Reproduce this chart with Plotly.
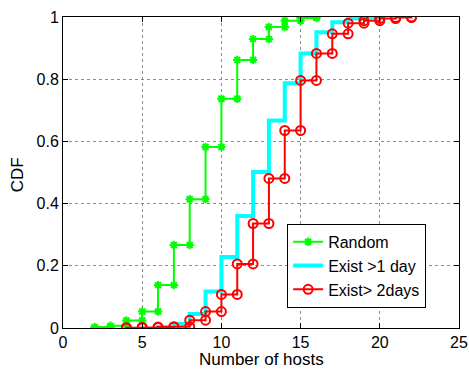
import plotly.graph_objects as go

# Data (CDF value reached at each host count)
random_x = [2, 3, 4, 5, 6, 7, 8, 9, 10, 11, 12, 13, 14, 15, 16]
random_F = [0.003, 0.007, 0.024, 0.053, 0.138, 0.267, 0.414, 0.582, 0.737,
            0.862, 0.929, 0.968, 0.988, 0.997, 1.0]

exist1_x = [6, 7, 8, 9, 10, 11, 12, 13, 14, 15, 16, 17, 18, 19, 20]
exist1_F = [0.003, 0.013, 0.045, 0.117, 0.228, 0.36, 0.502, 0.667, 0.787,
            0.883, 0.951, 0.983, 0.995, 0.998, 1.0]

exist2_x = [4, 5, 6, 7, 8, 9, 10, 11, 12, 13, 14, 15, 16, 17, 18, 19, 20, 21, 22]
exist2_F = [0.001, 0.002, 0.003, 0.004, 0.025, 0.053, 0.108, 0.206, 0.336,
            0.481, 0.635, 0.796, 0.883, 0.946, 0.98, 0.988, 0.995, 0.998, 1.0]

x_ticks = [0, 5, 10, 15, 20, 25]
y_ticks = [0, 0.2, 0.4, 0.6, 0.8, 1]
y_tick_labels = ["0", "0.2", "0.4", "0.6", "0.8", "1"]

x_title = "Number of hosts"
y_title = "CDF"


def stairs(xs, fs):
    vx, vy = [xs[0]], [0.0]
    prev = 0.0
    for i, (x, f) in enumerate(zip(xs, fs)):
        if i > 0:
            vx.append(x)
            vy.append(prev)
        vx.append(x)
        vy.append(f)
        prev = f
    return vx, vy


FONT = "Liberation Sans, Arial, sans-serif"

fig = go.Figure()

gx, gy = stairs(random_x, random_F)
fig.add_trace(go.Scatter(
    x=gx, y=gy, mode="lines+markers", name="Random",
    line=dict(color="#00ff00", width=2),
    marker=dict(symbol="asterisk-open", size=7, color="#00ff00",
                line=dict(color="#00ff00", width=2)),
))

cx, cy = stairs(exist1_x, exist1_F)
fig.add_trace(go.Scatter(
    x=cx, y=cy, mode="lines", name="Exist >1 day",
    line=dict(color="#00ffff", width=4),
))

rx, ry = stairs(exist2_x, exist2_F)
fig.add_trace(go.Scatter(
    x=rx, y=ry, mode="lines+markers", name="Exist> 2days",
    line=dict(color="#ff0000", width=2),
    marker=dict(symbol="circle-open", size=9, color="#ff0000",
                line=dict(color="#ff0000", width=2)),
))

axis_common = dict(
    showline=True, linecolor="black", linewidth=1, mirror="ticks",
    ticks="inside", ticklen=5, tickcolor="black",
    showgrid=True, gridcolor="#8c8c8c", griddash="dot", gridwidth=1,
    zeroline=False, automargin=False,
    tickfont=dict(family=FONT, size=16, color="black"),
)

fig.update_xaxes(range=[0, 25], tickvals=x_ticks, **axis_common)
fig.update_yaxes(range=[0, 1], tickvals=y_ticks, ticktext=y_tick_labels,
                 **axis_common)

fig.add_annotation(text=x_title, xref="paper", yref="paper",
                   x=0.5, y=-0.102, xanchor="center", yanchor="middle",
                   showarrow=False,
                   font=dict(family=FONT, size=17, color="black"))
fig.add_annotation(text=y_title, xref="paper", yref="paper",
                   x=-0.113, y=0.492, xanchor="center", yanchor="middle",
                   textangle=-90, showarrow=False,
                   font=dict(family=FONT, size=17, color="black"))

fig.update_layout(
    width=469, height=369,
    margin=dict(l=63, r=10, t=17, b=41),
    plot_bgcolor="white", paper_bgcolor="white",
    font=dict(family=FONT, size=16, color="black"),
    legend=dict(x=0.566, y=0.335, xanchor="left", yanchor="top",
                bgcolor="white", bordercolor="black", borderwidth=1,
                font=dict(family=FONT, size=16, color="black"),
                itemwidth=30, tracegroupgap=0),
    showlegend=True,
)

fig.write_html("out.html")
